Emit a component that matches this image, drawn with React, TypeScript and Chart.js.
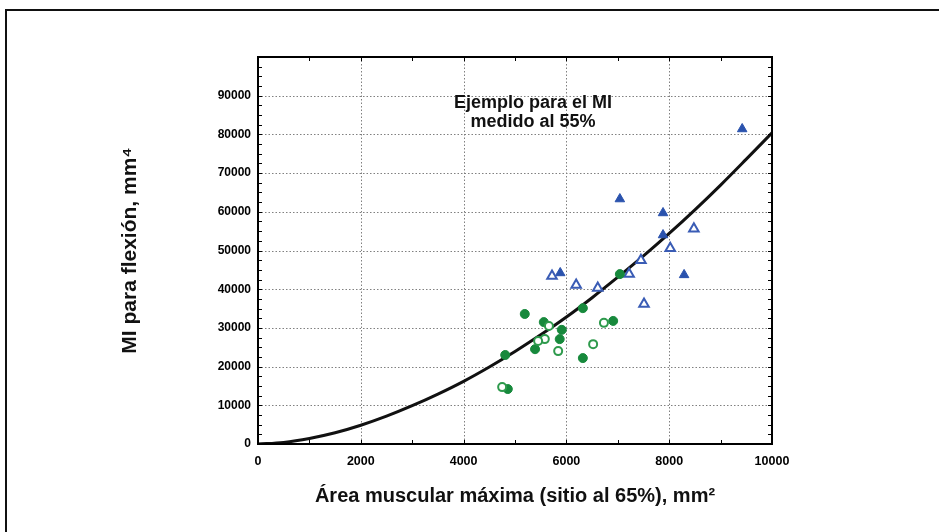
import React, { useEffect, useRef } from "react";
import { Chart, registerables } from "chart.js";

Chart.register(...registerables);

// Fitted curve
const curveX = [0, 500, 1000, 1500, 2000, 2500, 3000, 3500, 4000, 4500, 5000, 5500, 6000, 6500, 7000, 7500, 8000, 8500, 9000, 9500, 10000];
const curveY = [0, 420, 1430, 2900, 4850, 7200, 9900, 12900, 16200, 19900, 23900, 28200, 32800, 37800, 43100, 48600, 54400, 60500, 66900, 73600, 80400];

// Blue triangles
const blueFilledX = [9420, 7040, 7880, 7880, 5880, 8290];
const blueFilledY = [81400, 63300, 59700, 54000, 44200, 43700];
const blueOpenX = [8480, 8020, 7450, 5720, 7220, 6190, 6610, 7510];
const blueOpenY = [55600, 50600, 47500, 43400, 43900, 41100, 40300, 36200];

// Green circles
const greenFilledX = [7040, 6320, 5190, 5560, 6910, 5910, 5870, 5390, 6320, 4810, 4860];
const greenFilledY = [43900, 35100, 33600, 31500, 31800, 29500, 27100, 24500, 22200, 23000, 14200];
const greenOpenX = [5660, 6730, 5580, 5450, 6520, 5840, 4750];
const greenOpenY = [30500, 31300, 27100, 26600, 25800, 24000, 14700];

// Axes
const xGrid = [2000, 4000, 6000, 8000];
const yGrid = [10000, 20000, 30000, 40000, 50000, 60000, 70000, 80000, 90000];
const xMinor = [1000, 2000, 3000, 4000, 5000, 6000, 7000, 8000, 9000];
const yMinor = [2500, 5000, 7500, 10000, 12500, 15000, 17500, 20000, 22500, 25000, 27500, 30000, 32500, 35000, 37500, 40000, 42500, 45000, 47500, 50000, 52500, 55000, 57500, 60000, 62500, 65000, 67500, 70000, 72500, 75000, 77500, 80000, 82500, 85000, 87500, 90000, 92500, 95000, 97500];

const noteLines = ["Ejemplo para el MI", "medido al 55%"];
const noteX = 5350;
const noteY = [88000, 83300];

const xTitle = "Área muscular máxima (sitio al 65%), mm²";
const yTitle = "MI para flexión, mm⁴";

const FONT = "'Liberation Sans', Arial, Helvetica, sans-serif";

const pts = (xs: number[], ys: number[]) => xs.map((x, i) => ({ x, y: ys[i] }));

const boxPlugin = {
  id: "boxPlugin",
  beforeDatasetsDraw(chart: any) {
    const { ctx, chartArea: a, scales } = chart;
    const x = scales.x, y = scales.y;
    ctx.save();
    ctx.strokeStyle = "#808080";
    ctx.lineWidth = 1;
    ctx.setLineDash([1.5, 2]);
    for (const v of xGrid) {
      const px = Math.round(x.getPixelForValue(v)) + 0.5;
      ctx.beginPath(); ctx.moveTo(px, a.top); ctx.lineTo(px, a.bottom); ctx.stroke();
    }
    for (const v of yGrid) {
      const py = Math.round(y.getPixelForValue(v)) + 0.5;
      ctx.beginPath(); ctx.moveTo(a.left, py); ctx.lineTo(a.right, py); ctx.stroke();
    }
    ctx.restore();
  },
  afterDatasetsDraw(chart: any) {
    const { ctx, chartArea: a, scales } = chart;
    const x = scales.x, y = scales.y;
    ctx.save();
    ctx.setLineDash([]);
    ctx.strokeStyle = "#000";
    ctx.lineWidth = 1;
    for (const v of xMinor) {
      const px = Math.round(x.getPixelForValue(v)) + 0.5;
      ctx.beginPath(); ctx.moveTo(px, a.bottom); ctx.lineTo(px, a.bottom - 4); ctx.stroke();
      ctx.beginPath(); ctx.moveTo(px, a.top); ctx.lineTo(px, a.top + 4); ctx.stroke();
    }
    for (const v of yMinor) {
      const py = Math.round(y.getPixelForValue(v)) + 0.5;
      ctx.beginPath(); ctx.moveTo(a.left, py); ctx.lineTo(a.left + 4, py); ctx.stroke();
      ctx.beginPath(); ctx.moveTo(a.right, py); ctx.lineTo(a.right - 4, py); ctx.stroke();
    }
    ctx.lineWidth = 2;
    ctx.strokeRect(a.left, a.top, a.right - a.left, a.bottom - a.top);

    // annotation
    ctx.fillStyle = "#111";
    ctx.font = `bold 18px ${FONT}`;
    ctx.textAlign = "center";
    ctx.textBaseline = "middle";
    noteLines.forEach((t, i) => {
      ctx.fillText(t, x.getPixelForValue(noteX), y.getPixelForValue(noteY[i]));
    });

    // outer frame (top and left)
    ctx.fillStyle = "#111";
    ctx.fillRect(5, 9, chart.width - 5, 2);
    ctx.fillRect(5, 9, 2, chart.height - 9);
    ctx.restore();
  },
};

export default function App() {
  const ref = useRef<HTMLCanvasElement | null>(null);
  useEffect(() => {
    if (!ref.current) return;
    const chart = new Chart(ref.current, {
      type: "scatter",
      data: {
        datasets: [
          {
            type: "line",
            label: "curve",
            data: pts(curveX, curveY),
            borderColor: "#111",
            borderWidth: 3,
            pointRadius: 0,
            cubicInterpolationMode: "monotone",
            fill: false,
            order: 10,
          } as any,
          {
            label: "green open",
            data: pts(greenOpenX, greenOpenY),
            pointStyle: "circle",
            pointRadius: 4,
            backgroundColor: "#ffffff",
            borderColor: "#2e9a4c",
            borderWidth: 2,
            order: 1,
          },
          {
            label: "green filled",
            data: pts(greenFilledX, greenFilledY),
            pointStyle: "circle",
            pointRadius: 4.5,
            backgroundColor: "#17893c",
            borderColor: "#17893c",
            borderWidth: 1,
            order: 1,
          },
          {
            label: "blue open",
            data: pts(blueOpenX, blueOpenY),
            pointStyle: "triangle",
            pointRadius: 5.5,
            backgroundColor: "#ffffff",
            borderColor: "#3a5cb5",
            borderWidth: 2,
            order: 1,
          },
          {
            label: "blue filled",
            data: pts(blueFilledX, blueFilledY),
            pointStyle: "triangle",
            pointRadius: 5.5,
            backgroundColor: "#2a52ad",
            borderColor: "#2a52ad",
            borderWidth: 1,
            order: 1,
          },
        ],
      },
      options: {
        animation: false,
        responsive: false,
        devicePixelRatio: 1,
        layout: { padding: { left: 118, top: 57, right: 167, bottom: 24 } },
        plugins: { legend: { display: false }, tooltip: { enabled: false } },
        scales: {
          x: {
            type: "linear",
            min: 0,
            max: 10000,
            grid: { display: false, drawTicks: false },
            border: { display: false },
            afterFit: (s: any) => { s.height = 64; },
            ticks: {
              stepSize: 2000,
              padding: 10,
              color: "#000",
              font: { family: FONT, size: 12.5, weight: "bold" },
              maxRotation: 0,
              callback: (v: any) => String(v),
            },
            title: {
              display: true,
              text: xTitle,
              color: "#111",
              font: { family: FONT, size: 20, weight: "bold" },
              padding: 0,
            },
          },
          y: {
            type: "linear",
            min: 0,
            max: 100000,
            grid: { display: false, drawTicks: false },
            border: { display: false },
            afterFit: (s: any) => { s.width = 140; },
            ticks: {
              stepSize: 10000,
              padding: 7,
              color: "#000",
              font: { family: FONT, size: 12, weight: "bold" },
              callback: (v: any) => (v >= 100000 ? "" : String(v)),
            },
            title: {
              display: true,
              text: yTitle,
              color: "#111",
              font: { family: FONT, size: 21, weight: "bold" },
              padding: 0,
            },
          },
        },
      },
      plugins: [boxPlugin],
    });
    return () => chart.destroy();
  }, []);

  return (
    <div style={{ position: "fixed", left: 0, top: 0, width: 939, height: 532, background: "#fff" }}>
      <canvas ref={ref} width={939} height={532} style={{ width: 939, height: 532, display: "block" }} />
    </div>
  );
}
